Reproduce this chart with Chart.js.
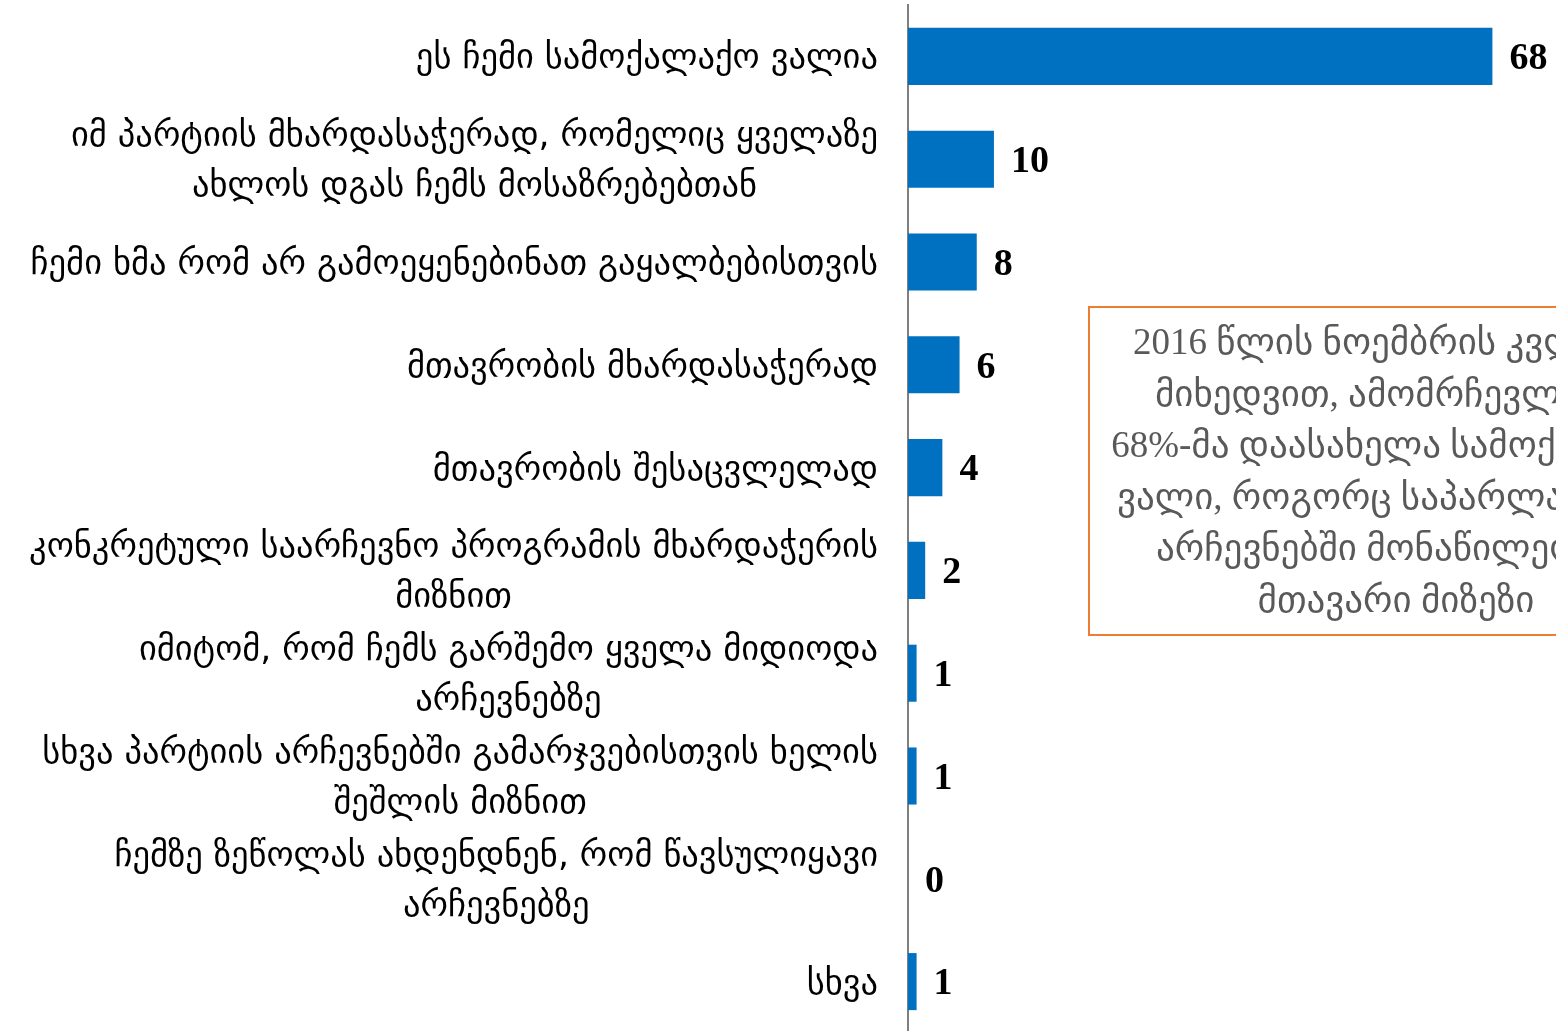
<!DOCTYPE html>
<html>
<head>
<meta charset="utf-8">
<script src="https://cdn.jsdelivr.net/npm/chart.js@4"></script>
<style>
  html, body { margin: 0; padding: 0; background: #fff; overflow: hidden; }
  #wrap { position: absolute; left: 0; top: 0; width: 1556px; height: 1033px; }
  #note {
    position: absolute; left: 1088px; top: 306px; width: 616px; height: 330px;
    border: 2px solid #ED7D31; box-sizing: border-box;
    font-family: "Liberation Serif", "DejaVu Sans", serif; font-size: 37px; line-height: 51.5px;
    color: #595959; text-align: center; padding-top: 8px; white-space: nowrap;
  }
</style>
</head>
<body>
<div id="wrap"><canvas id="chart" width="1556" height="1033"></canvas></div>
<div id="note">2016 წლის ნოემბრის კვლევის<br>მიხედვით, ამომრჩევლების<br>68%-მა დაასახელა სამოქალაქო<br>ვალი, როგორც საპარლამენტო<br>არჩევნებში მონაწილეობის<br>მთავარი მიზეზი</div>
<script>
// answer categories (line breaks as in the source)
const reasons = [
    ['ეს ჩემი სამოქალაქო ვალია'],
    ['იმ პარტიის მხარდასაჭერად, რომელიც ყველაზე', 'ახლოს დგას ჩემს მოსაზრებებთან'],
    ['ჩემი ხმა რომ არ გამოეყენებინათ გაყალბებისთვის'],
    ['მთავრობის მხარდასაჭერად'],
    ['მთავრობის შესაცვლელად'],
    ['კონკრეტული საარჩევნო პროგრამის მხარდაჭერის', 'მიზნით'],
    ['იმიტომ, რომ ჩემს გარშემო ყველა მიდიოდა', 'არჩევნებზე'],
    ['სხვა პარტიის არჩევნებში გამარჯვებისთვის ხელის', 'შეშლის მიზნით'],
    ['ჩემზე ზეწოლას ახდენდნენ, რომ წავსულიყავი', 'არჩევნებზე'],
    ['სხვა']
];
const shares = [68, 10, 8, 6, 4, 2, 1, 1, 0, 1];

const AXIS_X = 908;
const LABEL_FONT = '34.5px "DejaVu Sans", sans-serif';

// category labels: block right-aligned to the axis, lines centred inside the block
const labelPlugin = {
    id: 'reasonLabels',
    afterDraw(chart) {
        const ctx = chart.ctx;
        const y = chart.scales.y;
        ctx.save();
        ctx.font = LABEL_FONT;
        ctx.fillStyle = '#000';
        ctx.textAlign = 'center';
        ctx.textBaseline = 'middle';
        const right = y.right - 30;
        const lh = 50;
        reasons.forEach((lines, i) => {
            const widest = Math.max(...lines.map(l => ctx.measureText(l).width));
            const cx = right - widest / 2;
            const cy = y.getPixelForValue(i) + 3;
            lines.forEach((l, k) => {
                ctx.fillText(l, cx, cy + (k - (lines.length - 1) / 2) * lh);
            });
        });
        ctx.restore();
    }
};

// value labels to the right of each bar
const valuePlugin = {
    id: 'valueLabels',
    afterDatasetsDraw(chart) {
        const ctx = chart.ctx;
        const meta = chart.getDatasetMeta(0);
        ctx.save();
        ctx.font = 'bold 38px "Liberation Serif", serif';
        ctx.fillStyle = '#000';
        ctx.textAlign = 'left';
        ctx.textBaseline = 'middle';
        meta.data.forEach((bar, i) => {
            ctx.fillText(String(shares[i]), bar.x + 17, bar.y + 3);
        });
        ctx.restore();
    }
};

new Chart(document.getElementById('chart'), {
    type: 'bar',
    data: {
        labels: reasons.map(r => r.join(' ')),
        datasets: [{
            data: shares,
            backgroundColor: '#0070C0',
            borderWidth: 0,
            barPercentage: 0.555,
            categoryPercentage: 1
        }]
    },
    options: {
        indexAxis: 'y',
        responsive: false,
        animation: false,
        layout: { padding: { top: 5, right: 0, bottom: 0, left: 0 } },
        plugins: { legend: { display: false }, tooltip: { enabled: false } },
        scales: {
            x: { display: false, min: 0, max: 75.4 },
            y: {
                grid: { display: false },
                border: { display: true, color: '#7f7f7f', width: 2 },
                ticks: { display: false },
                afterFit: (s) => { s.width = AXIS_X; }
            }
        }
    },
    plugins: [labelPlugin, valuePlugin]
});
</script>
</body>
</html>
